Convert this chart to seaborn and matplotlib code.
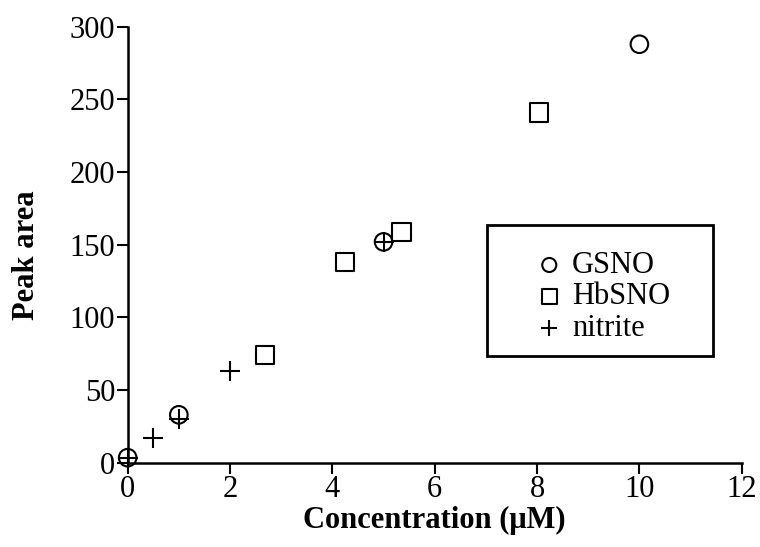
import matplotlib
matplotlib.use("Agg")
import matplotlib.pyplot as plt
from matplotlib.patches import Rectangle
import seaborn as sns
import pandas as pd

gsno_x = [0, 1, 5, 10]
gsno_y = [3.5, 33, 152, 288]
hbsno_x = [2.68, 4.25, 5.35, 8.03]
hbsno_y = [74, 138, 159, 241]
nitrite_x = [0, 0.5, 1, 2, 5]
nitrite_y = [3.5, 17, 30, 63, 152]

sns.set_theme(style="ticks")
plt.rcParams['font.family'] = ['Liberation Serif', 'DejaVu Serif']
plt.rcParams['text.color'] = 'black'
plt.rcParams['axes.labelcolor'] = 'black'
plt.rcParams['xtick.color'] = 'black'
plt.rcParams['ytick.color'] = 'black'

FS = 22

fig = plt.figure(figsize=(7.6, 5.47), dpi=100)
ax = fig.add_axes([0.168, 0.154, 0.808, 0.797])

g = pd.DataFrame({"x": gsno_x, "y": gsno_y})
h = pd.DataFrame({"x": hbsno_x, "y": hbsno_y})
n = pd.DataFrame({"x": nitrite_x, "y": nitrite_y})

sns.scatterplot(data=g, x="x", y="y", marker="o", s=160, facecolor="none",
                edgecolor="black", linewidth=1.5, ax=ax, label="GSNO", clip_on=False)
sns.scatterplot(data=h, x="x", y="y", marker="s", s=170, facecolor="none",
                edgecolor="black", linewidth=1.5, ax=ax, label="HbSNO", clip_on=False)
sns.scatterplot(data=n, x="x", y="y", marker="+", s=200, color="black",
                linewidth=1.5, ax=ax, label="nitrite", clip_on=False)

ax.set_xlim(0, 12)
ax.set_ylim(0, 300)
ax.set_xticks([0, 2, 4, 6, 8, 10, 12])
ax.set_yticks([0, 50, 100, 150, 200, 250, 300])
for s in ["top", "right"]:
    ax.spines[s].set_visible(False)
for s in ["left", "bottom"]:
    ax.spines[s].set_linewidth(1.8)
    ax.spines[s].set_color("black")
ax.tick_params(axis="both", direction="out", length=8, width=1.5, colors="black",
               labelsize=FS, pad=1)
ax.set_xlabel("Concentration (μM)", fontsize=FS, fontweight="bold")
ax.set_ylabel("Peak area", fontsize=FS, fontweight="bold")
ax.xaxis.set_label_coords(0.5, -0.098)
ax.yaxis.set_label_coords(-0.141, 0.477)

leg = ax.legend(loc="upper left", bbox_to_anchor=(534 / 760, 1 - 251 / 547),
                bbox_transform=fig.transFigure, frameon=False,
                fontsize=FS, handletextpad=0.25, borderpad=0,
                labelspacing=0.08, handlelength=1.0, borderaxespad=0,
                markerscale=0.8)

fig.add_artist(Rectangle((487 / 760, 1 - 356 / 547), 226 / 760, 131 / 547,
                         transform=fig.transFigure, fill=False,
                         edgecolor="black", linewidth=2))

fig.savefig("out.png", dpi=100)
